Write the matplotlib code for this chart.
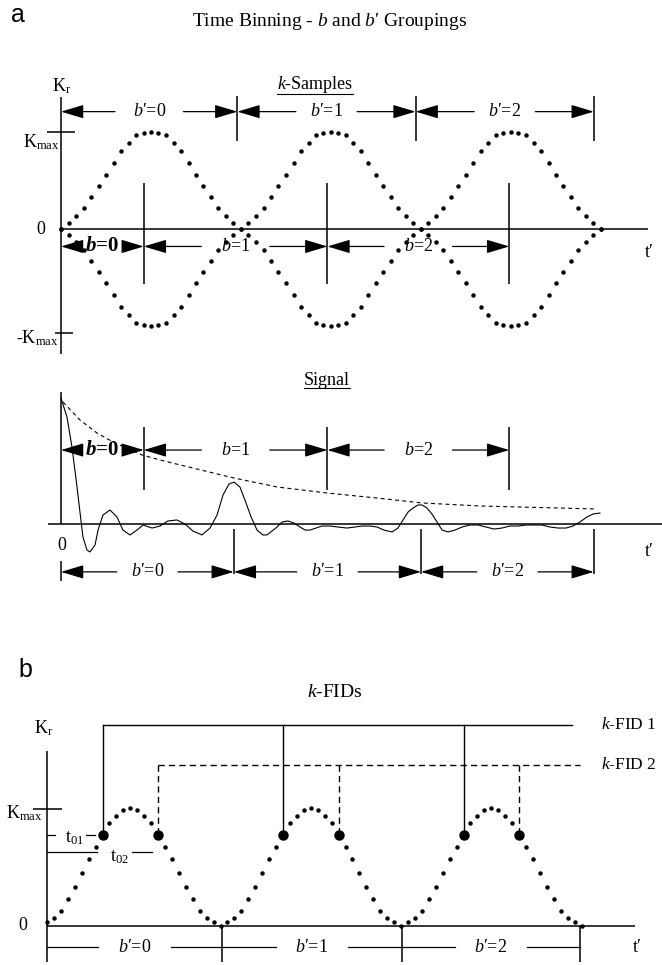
import numpy as np
import matplotlib
matplotlib.use('Agg')
import matplotlib.pyplot as plt
from matplotlib.lines import Line2D

plt.rcParams['font.family'] = ['Liberation Serif', 'DejaVu Serif']
plt.rcParams['mathtext.fontset'] = 'custom'
plt.rcParams['mathtext.rm'] = 'Liberation Serif'
plt.rcParams['mathtext.it'] = 'Liberation Serif:italic'
plt.rcParams['mathtext.bf'] = 'Liberation Serif:bold'
plt.rcParams['mathtext.bfit'] = 'Liberation Serif:italic:bold'

W, H = 662, 965

# ---- data ----
# one period of the k-sample trajectory (fraction of Kmax), 24 samples / period
ks_hump = [0, .06, .13, .22, .33, .44, .56, .68, .80, .89, .97, .99, 1.0,
           .99, .97, .89, .80, .68, .56, .44, .33, .22, .13, .06]
# panel b trajectory, 26 samples / period
kfid_hump = [.03, .07, .13, .23, .33, .45, .57, .67, .77, .87, .93, .98, 1.0,
             .98, .93, .87, .77, .67, .57, .45, .33, .23, .13, .07, .03, 0]
n_periods = 3

b_edges = [0, 0.46, 1.48, 2.49]
bp_edges_top = [0, 0.98, 1.97, 2.96]
bp_edges_sig = [0, 0.96, 2.0, 2.96]
bp_edges_fid = [0, 0.97, 1.965, 2.955]
b_labels = [r'$\mathbfit{b}$=0', r'$b$=1', r'$b$=2']
bp_labels = [r'$b$′=0', r'$b$′=1', r'$b$′=2']

sig_t = [0.000, 0.033, 0.061, 0.089, 0.106, 0.122, 0.144, 0.161, 0.189, 0.206, 0.233, 0.272,
         0.311, 0.344, 0.383, 0.422, 0.456, 0.506, 0.550, 0.594, 0.644, 0.689, 0.733, 0.783,
         0.828, 0.867, 0.900, 0.933, 0.961, 0.994, 1.022, 1.056, 1.089, 1.122, 1.144, 1.172,
         1.200, 1.228, 1.261, 1.294, 1.328, 1.356, 1.383, 1.417, 1.450, 1.494, 1.539, 1.589,
         1.633, 1.672, 1.717, 1.756, 1.794, 1.839, 1.872, 1.900, 1.928, 1.956, 1.983, 2.006,
         2.033, 2.061, 2.089, 2.117, 2.150, 2.189, 2.228, 2.272, 2.317, 2.361, 2.406, 2.450,
         2.494, 2.539, 2.583, 2.628, 2.672, 2.717, 2.761, 2.806, 2.844, 2.883, 2.922, 2.956, 2.994]
sig_s = [1.000, 0.849, 0.611, 0.294, 0.087, -0.103, -0.206, -0.222, -0.167, -0.048, 0.071, 0.111,
         0.056, -0.048, -0.087, -0.048, -0.008, -0.032, -0.016, 0.024, 0.032, 0.000, -0.056, -0.087,
         -0.032, 0.071, 0.230, 0.317, 0.333, 0.294, 0.190, 0.056, -0.048, -0.087, -0.087, -0.056,
         -0.024, 0.016, 0.024, 0.008, -0.024, -0.048, -0.048, -0.032, -0.016, -0.016, -0.024, -0.032,
         -0.024, -0.016, -0.016, -0.024, -0.048, -0.063, -0.032, 0.032, 0.095, 0.127, 0.151, 0.151,
         0.127, 0.079, 0.016, -0.048, -0.063, -0.048, -0.024, -0.008, -0.008, -0.024, -0.040, -0.032,
         -0.016, -0.016, -0.008, -0.008, -0.008, -0.024, -0.032, -0.032, -0.016, 0.016, 0.056, 0.079, 0.087]
env_t = [0.011, 0.106, 0.200, 0.289, 0.450, 0.550, 0.733, 0.961, 1.200, 1.478, 1.756, 2.006, 2.328, 2.978]
env_s = [0.968, 0.825, 0.722, 0.651, 0.548, 0.508, 0.444, 0.365, 0.294, 0.246, 0.206, 0.167, 0.143, 0.119]

fid1_t = [0.308, 1.308, 2.308]   # k-FID 1 sample times
fid2_t = [0.615, 1.615, 2.615]   # k-FID 2 sample times
fid_k = 0.77
fid1_level, fid2_level = 1.70, 1.364
fid1_end, fid2_end = 2.909, 2.953

k_top = np.array(ks_hump * n_periods + [0])
t_top = np.arange(len(k_top)) / len(ks_hump)
k_fid = np.array(kfid_hump * n_periods)
t_fid = np.arange(len(k_fid)) / len(kfid_hump)

fig = plt.figure(figsize=(W / 100, H / 100), dpi=100)


def panel_ax(top, bot, x0, ux, y0, uy):
    ax = fig.add_axes([0, 1 - bot / H, 1, (bot - top) / H])
    ax.set_xlim(-x0 / ux, (W - x0) / ux)
    ax.set_ylim((y0 - bot) / uy, (y0 - top) / uy)
    ax.axis('off')
    return ax


def arrow_row(ax, edges, labels, y, gaps, weight='normal', heads=True, size=13):
    for i, lab in enumerate(labels):
        a, b = edges[i], edges[i + 1]
        c = (a + b) / 2
        ax.text(c, y, lab, ha='center', va='center', fontsize=size, fontweight=weight)
        g = gaps[i]
        for end, start in ((a, c - g), (b, c + g)):
            if heads:
                ax.annotate('', xy=(end, y), xytext=(start, y),
                            arrowprops=dict(arrowstyle='-|>,head_length=1.4,head_width=0.42',
                                            mutation_scale=10, color='k', lw=0.9,
                                            shrinkA=0, shrinkB=0))
            else:
                ax.plot([start, end], [y, y], color='k', lw=0.9)


lk = dict(color='k', lw=1.1, solid_capstyle='butt')

# ---------------- panel a: k-samples ----------------
ax1 = panel_ax(40, 360, 61, 180, 229, 97)
ax1.plot([0, 0], [1.36, -1.29], **lk)
ax1.plot([0, 3.26], [0, 0], **lk)
ax1.plot([-0.078, 0.078], [1, 1], **lk)
ax1.plot([-0.033, 0.067], [-1.07, -1.07], **lk)
ax1.plot(t_top, k_top, ls='none', marker='o', ms=2.2, color='k')
ax1.plot(t_top, -k_top, ls='none', marker='o', ms=2.2, color='k')
for e in bp_edges_top[1:]:
    ax1.plot([e, e], [0.906, 1.375], **lk)
for e in b_edges[1:]:
    ax1.plot([e, e], [0.47, -0.57], **lk)
arrow_row(ax1, bp_edges_top, bp_labels, 1.21, [0.19, 0.17, 0.17])
arrow_row(ax1, b_edges[:2], b_labels[:1], -0.18, [0.122], weight='bold', size=15)
arrow_row(ax1, b_edges[1:], b_labels[1:], -0.18, [0.19, 0.19])
ax1.text(0.005, 1.47, r'$\mathrm{K_r}$', ha='center', va='center', fontsize=13)
ax1.text(-0.005, 1.0, r'$\mathrm{K_{max}}$', ha='right', va='top', fontsize=13)
ax1.text(-0.111, 0, '0', ha='center', va='center', fontsize=13)
ax1.text(-0.01, -1.13, '-' + r'$\mathrm{K_{max}}$', ha='right', va='center', fontsize=13)
ax1.text(3.244, -0.24, 't′', ha='left', va='center', fontsize=13)
t_ks = ax1.text(1.411, 1.49, r'$k$-Samples', ha='center', va='center', fontsize=13)

# ---------------- panel a: signal ----------------
ax2 = panel_ax(360, 625, 61, 180, 524, 126)
ax2.plot([0, 0], [0, 1.05], **lk)
ax2.plot([-0.072, 3.34], [0, 0], **lk)
ax2.plot(sig_t, sig_s, color='k', lw=0.8)
ax2.plot(env_t, env_s, color='k', lw=0.8, dashes=(3.5, 3))
for e in b_edges[1:]:
    ax2.plot([e, e], [0.77, 0.27], **lk)
arrow_row(ax2, b_edges[:2], b_labels[:1], 0.587, [0.12], weight='bold', size=15)
arrow_row(ax2, b_edges[1:], b_labels[1:], 0.587, [0.19, 0.19])
for e in bp_edges_sig[1:]:
    ax2.plot([e, e], [-0.04, -0.40], **lk)
ax2.plot([0, 0], [-0.29, -0.45], **lk)
arrow_row(ax2, bp_edges_sig, bp_labels, -0.38, [0.17, 0.17, 0.17])
ax2.text(0.006, -0.167, '0', ha='center', va='center', fontsize=13)
ax2.text(3.244, -0.22, 't′', ha='left', va='center', fontsize=13)
t_sig = ax2.text(1.478, 1.135, 'Signal', ha='center', va='center', fontsize=13)

# ---------------- panel b: k-FIDs ----------------
ax3 = panel_ax(625, 965, 47, 180.5, 926, 118)
ax3.plot([0, 0], [1.48, -0.305], **lk)
ax3.plot([0, 3.258], [0, 0], **lk)
ax3.plot([-0.078, 0.083], [0.99, 0.99], **lk)
ax3.plot(t_fid, k_fid, ls='none', marker='o', ms=2.2, color='k')
ax3.plot([fid1_t[0], fid1_end], [fid1_level] * 2, color='k', lw=1.0)
for t in fid1_t:
    ax3.plot([t, t], [fid1_level, fid_k], color='k', lw=1.0)
ax3.plot([fid2_t[0], fid2_end], [fid2_level] * 2, color='k', lw=1.0, dashes=(4.5, 3))
for t in fid2_t:
    ax3.plot([t, t], [fid2_level, fid_k], color='k', lw=1.0, dashes=(4.5, 3))
ax3.plot(fid1_t + fid2_t, [fid_k] * 6, ls='none', marker='o', ms=6.5, color='k')
# t01 / t02 markers
ax3.plot([0, 0.044], [fid_k, fid_k], color='k', lw=0.9)
ax3.plot([0.216, 0.266], [fid_k, fid_k], color='k', lw=0.9)
ax3.text(0.15, 0.746, r'$\mathrm{t_{01}}$', ha='center', va='center', fontsize=13)
ax3.plot([0, 0.277], [0.627, 0.627], color='k', lw=0.9)
ax3.plot([0.471, 0.582], [0.627, 0.627], color='k', lw=0.9)
ax3.text(0.399, 0.585, r'$\mathrm{t_{02}}$', ha='center', va='center', fontsize=13)
for e in bp_edges_fid[1:]:
    ax3.plot([e, e], [0, -0.305], **lk)
arrow_row(ax3, bp_edges_fid, bp_labels, -0.178, [0.2, 0.2, 0.2], heads=False)
ax3.text(-0.017, 1.678, r'$\mathrm{K_r}$', ha='center', va='center', fontsize=13)
ax3.text(-0.022, 0.96, r'$\mathrm{K_{max}}$', ha='right', va='center', fontsize=13)
ax3.text(-0.133, 0, '0', ha='center', va='center', fontsize=13)
ax3.text(3.269, -0.186, 't′', ha='center', va='center', fontsize=13)
ax3.text(3.07, fid1_level, r'$k$-FID 1', ha='left', va='center', fontsize=12.5)
ax3.text(3.07, fid2_level, r'$k$-FID 2', ha='left', va='center', fontsize=12.5)
ax3.text(1.596, 1.975, r'$k$-FIDs', ha='center', va='center', fontsize=14)

# titles and panel letters
fig.text(330 / W, 1 - 22 / H, 'Time Binning - $b$ and $b$′ Groupings', ha='center', va='center', fontsize=14)
fig.text(18 / W, 1 - 15 / H, 'a', ha='center', va='center', fontsize=18, family='Liberation Sans')
fig.text(25 / W, 1 - 670 / H, 'b', ha='center', va='center', fontsize=18, family='Liberation Sans')

# underline headings
fig.canvas.draw()
r = fig.canvas.get_renderer()
for txt in (t_ks, t_sig):
    bb = txt.get_window_extent(r)
    fig.add_artist(Line2D([bb.x0 / W, bb.x1 / W], [(bb.y0 + 1) / H] * 2,
                          transform=fig.transFigure, color='k', lw=0.8))

fig.savefig('out.png', dpi=100)
